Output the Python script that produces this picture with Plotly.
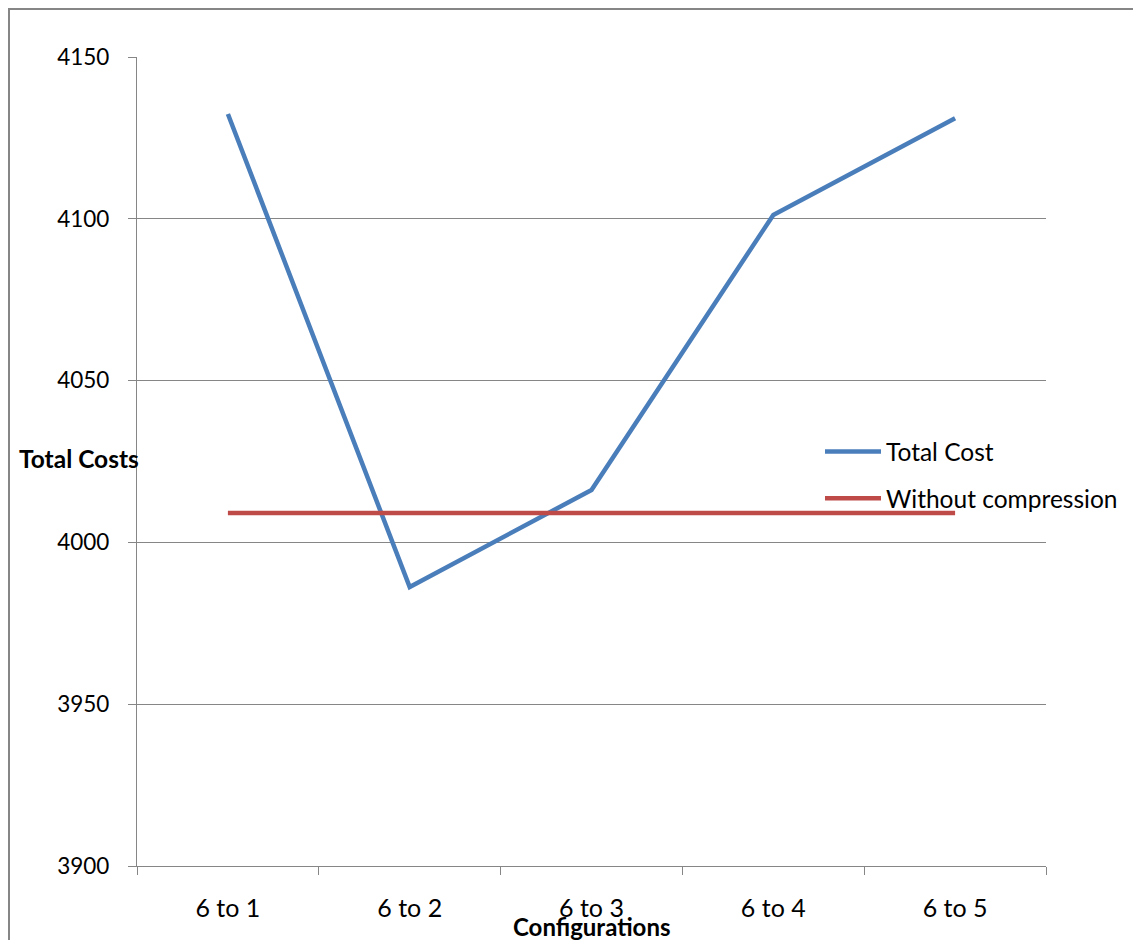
import plotly.graph_objects as go

# Cost of each compression configuration
configurations = ["6 to 1", "6 to 2", "6 to 3", "6 to 4", "6 to 5"]
total_cost = [4132.4, 3986.2, 4016.2, 4101.2, 4131.1]
without_compression = [4009.1, 4009.1, 4009.1, 4009.1, 4009.1]
y_ticks = [3900, 3950, 4000, 4050, 4100, 4150]

FONT = "Lato, Calibri, Carlito, sans-serif"
GRID = "#868686"

fig = go.Figure()
fig.add_trace(go.Scatter(
    x=configurations, y=total_cost, mode="lines", name="Total Cost",
    legendgroup="a",
    line=dict(color="#4A7EBB", width=4.5),
))
fig.add_trace(go.Scatter(
    x=configurations, y=without_compression, mode="lines",
    name="Without compression", legendgroup="b",
    line=dict(color="#BE4B48", width=4.5),
))

# plot area in pixels: left 137, right 1046, top 57, bottom 866
L, R, T, B = 137, 1046, 57, 866
W, H = R - L, B - T


def px(x):
    return (x - L) / W


def py(y):
    return (B - y) / H


fig.update_layout(
    width=1133, height=940,
    margin=dict(l=L, r=1133 - R, t=T, b=940 - B, pad=0, autoexpand=False),
    paper_bgcolor="white", plot_bgcolor="white",
    font=dict(family=FONT, size=22, color="#000000"),
    showlegend=True,
    legend=dict(
        x=px(820), y=py(429), xanchor="left", yanchor="top",
        bgcolor="rgba(0,0,0,0)", font=dict(size=24.5),
        traceorder="grouped", tracegroupgap=12, itemwidth=56,
    ),
    xaxis=dict(
        type="category", range=[-0.5, 4.5],
        tickson="boundaries", ticks="outside", ticklen=8, tickcolor=GRID,
        showline=True, linecolor=GRID, linewidth=1.3,
        showgrid=False, zeroline=False,
        tickfont=dict(size=25),
        ticklabelstandoff=20,
    ),
    yaxis=dict(
        range=[3900, 4150], tickvals=y_ticks,
        ticks="outside", ticklen=8, tickcolor=GRID,
        showline=True, linecolor=GRID, linewidth=1.3,
        showgrid=True, gridcolor=GRID, gridwidth=1.3, zeroline=False,
        tickfont=dict(size=22.5),
        ticklabelstandoff=14,
    ),
    shapes=[
        # outer chart frame
        dict(type="rect", xref="paper", yref="paper",
             x0=px(9), x1=px(1145), y0=py(950), y1=py(9),
             line=dict(color=GRID, width=2), fillcolor="rgba(0,0,0,0)",
             layer="below"),
    ],
    annotations=[
        dict(text="<b>Total Costs</b>", xref="paper", yref="paper",
             x=px(17), y=py(458), xanchor="left", yanchor="middle",
             showarrow=False, font=dict(size=24.5)),
        dict(text="<b>Configurations</b>", xref="paper", yref="paper",
             x=px(591), y=py(926), xanchor="center", yanchor="middle",
             showarrow=False, font=dict(size=24)),
    ],
)

fig.write_html("out.html")
